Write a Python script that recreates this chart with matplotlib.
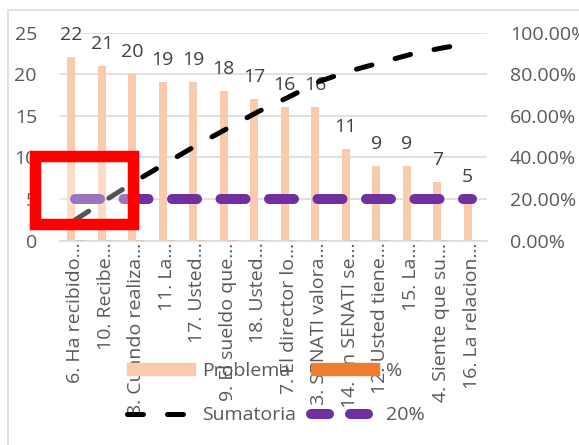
"""
Diagrama de Pareto: problemas, sumatoria acumulada y linea del 20%
"""

import numpy as np
import matplotlib
matplotlib.use('Agg')
import matplotlib.pyplot as plt
from matplotlib.patches import Rectangle, Patch
from matplotlib.lines import Line2D

plt.rcParams['font.family'] = ['Open Sans', 'DejaVu Sans']
plt.rcParams['lines.scale_dashes'] = False

categorias = ['6. Ha recibido…', '10. Recibe…', '8. Cuando realiza…', '11. La…',
              '17. Usted…', '9. El sueldo que…', '18. Usted…', '7. El director lo…',
              '13. SENATI valora…', '14. En SENATI se…', '12. Usted tiene…', '15. La…',
              '4. Siente que su…', '16. La relacion…']
problema = [22, 21, 20, 19, 19, 18, 17, 16, 16, 11, 9, 9, 7, 5]
porcentaje = [0.100, 0.095, 0.091, 0.086, 0.086, 0.082, 0.077, 0.073, 0.073,
              0.050, 0.041, 0.041, 0.032, 0.023]
sumatoria = [0.100, 0.195, 0.288, 0.375, 0.460, 0.540, 0.620, 0.690, 0.765,
             0.815, 0.855, 0.895, 0.925, 0.950]
veinte = [0.20, 0.20, 0.20, 0.20, 0.20, 0.20, 0.20, 0.20, 0.20, 0.20, 0.20, 0.20, 0.20, 0.20]
ticks_izq = [0, 5, 10, 15, 20, 25]
ticks_der = [0.0, 0.2, 0.4, 0.6, 0.8, 1.0]

DPI = 100
W, H = 579, 445
PT = 72 / DPI          # px -> pt
FS = 19.5 * PT         # tamaño de letra
GRIS = '#595959'

fig = plt.figure(figsize=(W / DPI, H / DPI), dpi=DPI)
ax = fig.add_axes([60 / W, 1 - 240.7 / H, 427 / W, 208.2 / H])
ax2 = ax.twinx()

x = np.arange(len(categorias))
w = 0.26
ax.bar(x - w / 2, problema, w, color='#F8CBAD', zorder=2)
ax.bar(x + w / 2, porcentaje, w, color='#ED7D31', zorder=2)

# etiquetas de datos
for xi, v in zip(x, problema):
    ax.annotate(str(v), (xi - w / 2, v), xytext=(0, 17 * PT), textcoords='offset points',
                ha='center', va='baseline', fontsize=FS, color='#404040')

ax.set_xlim(-0.5, len(categorias) - 0.5)
ax.set_ylim(0, 25)
ax.set_yticks(ticks_izq)
ax.grid(axis='y', color='#D9D9D9', lw=1.6 * PT, zorder=0)
ax.set_axisbelow(True)
for s in ['top', 'left', 'right']:
    ax.spines[s].set_visible(False)
ax.spines['bottom'].set_color('#D9D9D9')
ax.spines['bottom'].set_linewidth(1.6 * PT)
ax.tick_params(axis='y', length=0, pad=23 * PT, labelsize=FS, labelcolor=GRIS)
ax.set_xticks(x)
ax.set_xticklabels(categorias, rotation=90, ha='center', va='top')
ax.tick_params(axis='x', length=0, pad=2 * PT, labelsize=FS, labelcolor=GRIS)

# eje secundario con la sumatoria y el 20%
ax2.plot(x, sumatoria, color='black', lw=5 * PT, dashes=(16 * PT, 24 * PT),
         dash_capstyle='round')
ax2.plot(x, veinte, color='#7030A0', lw=10 * PT, dashes=(25 * PT, 23.5 * PT),
         dash_capstyle='round')
ax2.set_ylim(0, 1)
ax2.set_yticks(ticks_der)
ax2.yaxis.set_major_formatter(lambda v, p: f'{v * 100:.2f}%')
ax2.tick_params(axis='y', length=0, pad=23 * PT, labelsize=FS, labelcolor=GRIS)
for s in ax2.spines.values():
    s.set_visible(False)

# leyenda
handles = [Patch(color='#F8CBAD'),
           Line2D([], [], color='black', lw=5 * PT, dashes=(16 * PT, 24 * PT), dash_capstyle='round'),
           Patch(color='#ED7D31'),
           Line2D([], [], color='#7030A0', lw=10 * PT, dashes=(18 * PT, 21 * PT), dash_capstyle='round')]
labels = ['Problema', 'Sumatoria', '%', '20%']
fig.legend(handles, labels, ncol=2, loc='upper left', bbox_to_anchor=(127 / W, 1 - 362 / H),
           frameon=False, fontsize=FS, handlelength=68 / 19.5, handleheight=12 / 19.5,
           handletextpad=7 / 19.5, columnspacing=0.75, labelspacing=1.35, borderpad=0,
           borderaxespad=0, labelcolor=GRIS)

# borde del grafico
fig.add_artist(Rectangle((8 / W, -0.1), 1.2, 1 - 10 / H + 0.1, transform=fig.transFigure,
                         fill=False, edgecolor='#D9D9D9', lw=1.6 * PT, zorder=0))

# recuadro rojo
fig.add_artist(Rectangle((29.3 / W, 1 - 230 / H), 109 / W, 80 / H, transform=fig.transFigure,
                         facecolor='white', alpha=0.33, edgecolor='none', zorder=20))
fig.add_artist(Rectangle((35 / W, 1 - 224 / H), 97.5 / W, 68 / H, transform=fig.transFigure,
                         fill=False, edgecolor='#FF0000', lw=11.5 * PT, joinstyle='miter', zorder=21))

fig.savefig('out.png', dpi=DPI)
plt.close(fig)
